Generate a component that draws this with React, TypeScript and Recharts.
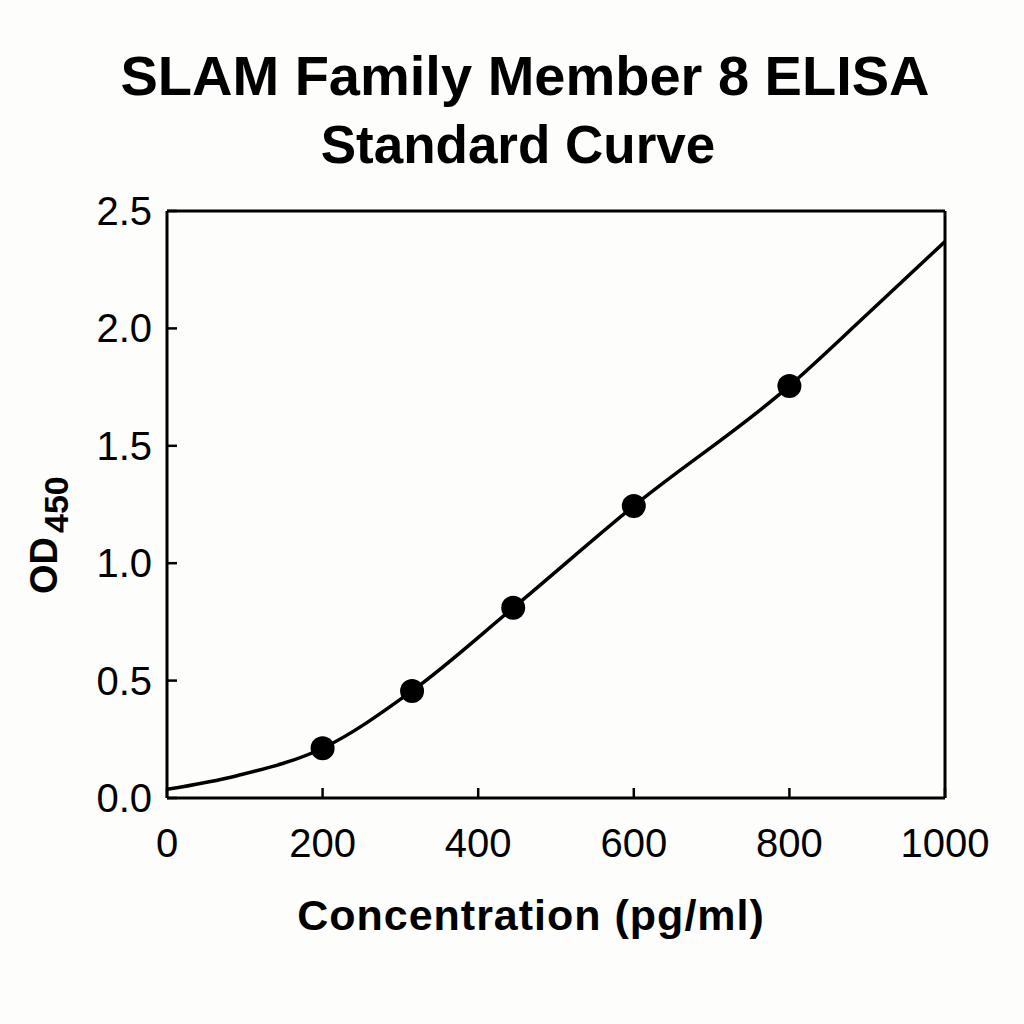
import React from 'react';
import { ComposedChart, Line, Scatter, XAxis, YAxis, ReferenceLine } from 'recharts';

// Fitted standard curve (concentration pg/ml -> OD450)
const curveConc = [0, 90, 200, 315, 445, 600, 800, 900, 1000];
const curveOD = [0.037, 0.095, 0.212, 0.456, 0.81, 1.244, 1.755, 2.06, 2.37];

// Measured standards
const stdConc = [200, 315, 445, 600, 800];
const stdOD = [0.212, 0.456, 0.81, 1.244, 1.755];

const xTicks = [0, 200, 400, 600, 800, 1000];
const yTicks = [0, 0.5, 1.0, 1.5, 2.0, 2.5];

const titleLine1 = 'SLAM Family Member 8 ELISA';
const titleLine2 = 'Standard Curve';
const xLabel = 'Concentration (pg/ml)';

const FONT = '"Liberation Sans", Arial, Helvetica, sans-serif';

const curveData = curveConc.map((x, i) => ({ x, od: curveOD[i] }));
const stdData = stdConc.map((x, i) => ({ x, od: stdOD[i] }));

const XTick = (props: any) => {
  const { x, y, payload } = props;
  return (
    <g>
      <line x1={x} y1={y} x2={x} y2={y - 10} stroke="#000" strokeWidth={2.5} />
      <text x={x} y={y + 59} textAnchor="middle" fontSize={40} fontFamily={FONT} fill="#000">
        {String(payload.value)}
      </text>
    </g>
  );
};

const YTick = (props: any) => {
  const { x, y, payload } = props;
  return (
    <g>
      <line x1={x} y1={y} x2={x + 10} y2={y} stroke="#000" strokeWidth={2.5} />
      <text x={x - 15} y={y + 14} textAnchor="end" fontSize={40} fontFamily={FONT} fill="#000">
        {Number(payload.value).toFixed(1)}
      </text>
    </g>
  );
};

const Dot = (props: any) => {
  const { cx, cy } = props;
  if (cx == null || cy == null) return null;
  return <circle cx={cx} cy={cy} r={12} fill="#000" />;
};

export default function App() {
  return (
    <div style={{ position: 'fixed', left: 0, top: 0, width: 1024, height: 1024, background: '#fdfdfb' }}>
      <ComposedChart
        width={1024}
        height={1024}
        margin={{ top: 211, right: 79, bottom: 0, left: 0 }}
      >
        <XAxis
          type="number"
          dataKey="x"
          domain={[0, 1000]}
          ticks={xTicks}
          allowDataOverflow
          height={226}
          tickSize={0}
          tickMargin={0}
          tickLine={false}
          tick={XTick}
          axisLine={{ stroke: '#000', strokeWidth: 3 }}
          interval={0}
        />
        <YAxis
          type="number"
          dataKey="od"
          domain={[0, 2.5]}
          ticks={yTicks}
          allowDataOverflow
          width={167}
          tickSize={0}
          tickMargin={0}
          tickLine={false}
          tick={YTick}
          axisLine={{ stroke: '#000', strokeWidth: 3 }}
          interval={0}
        />
        <ReferenceLine y={2.5} stroke="#000" strokeWidth={3} ifOverflow="visible" />
        <ReferenceLine x={1000} stroke="#000" strokeWidth={3} ifOverflow="visible" />
        <Line
          data={curveData}
          dataKey="od"
          type="monotone"
          stroke="#000"
          strokeWidth={3.5}
          dot={false}
          activeDot={false}
          isAnimationActive={false}
        />
        <Scatter data={stdData} dataKey="od" shape={Dot} isAnimationActive={false} />
      </ComposedChart>
      <svg
        width={1024}
        height={1024}
        style={{ position: 'absolute', left: 0, top: 0, pointerEvents: 'none' }}
      >
        <text x={525} y={95} textAnchor="middle" fontSize={56} fontWeight="bold" fontFamily={FONT} fill="#000">
          {titleLine1}
        </text>
        <text x={518} y={163} textAnchor="middle" fontSize={53} fontWeight="bold" fontFamily={FONT} fill="#000">
          {titleLine2}
        </text>
        <text x={531} y={930} textAnchor="middle" fontSize={43} fontWeight="bold" letterSpacing={1} fontFamily={FONT} fill="#000">
          {xLabel}
        </text>
        <text transform="translate(57,594) rotate(-90)" fontSize={38} fontWeight="bold" fontFamily={FONT} fill="#000">
          OD
          <tspan fontSize={34} dy={11} dx={4}>450</tspan>
        </text>
      </svg>
    </div>
  );
}
